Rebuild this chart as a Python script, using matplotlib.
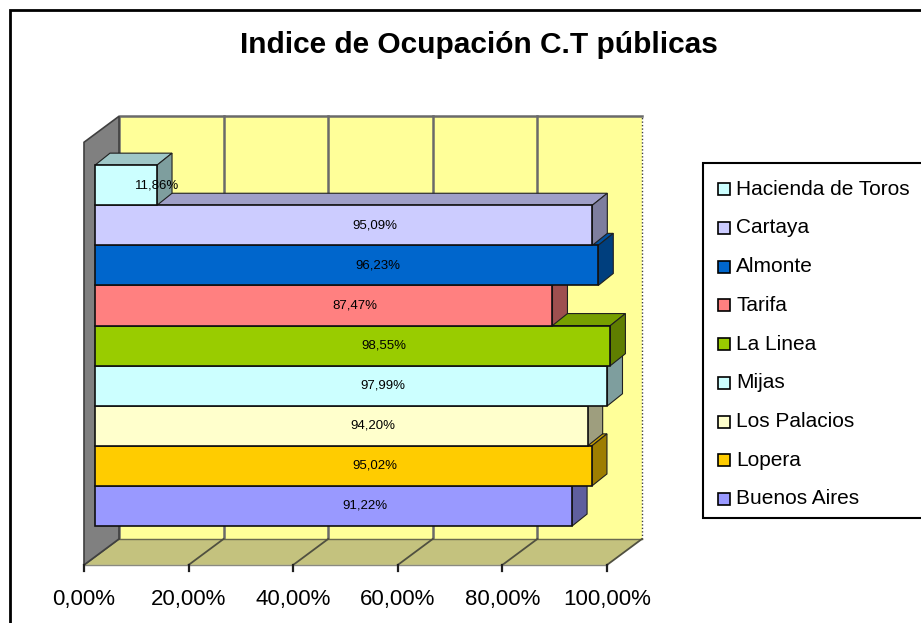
import matplotlib
matplotlib.use("Agg")
import matplotlib.pyplot as plt
from matplotlib.patches import Polygon, Rectangle
import numpy as np

plt.rcParams['font.family'] = ['Liberation Sans', 'DejaVu Sans']

# ---- data (bottom to top) ----
categories = ['Buenos Aires', 'Lopera', 'Los Palacios', 'Mijas', 'La Linea',
              'Tarifa', 'Almonte', 'Cartaya', 'Hacienda de Toros']
values = [91.22, 95.02, 94.20, 97.99, 98.55, 87.47, 96.23, 95.09, 11.86]
colors = ['#9999FF', '#FFCC00', '#FFFFCC', '#CCFFFF', '#99CC00',
          '#FF8080', '#0066CC', '#CCCCFF', '#CCFFFF']
tick_values = [0, 20, 40, 60, 80, 100]
tick_labels = ['0,00%', '20,00%', '40,00%', '60,00%', '80,00%', '100,00%']
title = 'Indice de Ocupación C.T públicas'

W, H = 921, 623
fig = plt.figure(figsize=(W / 100, H / 100), dpi=100)

# scale (pixels per data unit) used only to set the view
PX, PY = 5.23, 40.1
X0PIX, Y0PIX = 95, 506
ax = fig.add_axes([0, 0, 1, 1])
ax.set_xlim(-X0PIX / PX, (W - X0PIX) / PX)
ax.set_ylim((Y0PIX - H) / PY, Y0PIX / PY)
ax.axis('off')

# 3D geometry (data units)
BDX, BDY = 15 / PX, 12 / PY          # bar depth
FX, FY = -11 / PX, -8 / PY           # wall front offset
BX, BY = 24 / PX, 18 / PY            # wall back offset
n = len(values)
y_floor = -0.5 - 0.77
y_top = n - 0.5 + 0.77
xmax = 100

grid_c = '#6A6A6A'

# back wall
ax.add_patch(Polygon([(BX, y_floor + BY), (xmax + BX, y_floor + BY),
                      (xmax + BX, y_top + BY), (BX, y_top + BY)],
                     closed=True, facecolor='#FFFF99', edgecolor='none', zorder=1))
ax.plot([BX, BX, xmax + BX], [y_floor + BY, y_top + BY, y_top + BY],
        color=grid_c, lw=1.8, zorder=1.5)
for t in tick_values[1:-1]:
    ax.plot([t + BX, t + BX], [y_floor + BY, y_top + BY], color=grid_c, lw=1.8, zorder=1.5)
ax.plot([xmax + BX, xmax + BX], [y_floor + BY, y_top + BY], color='#404040',
        lw=1.0, ls=(0, (1, 1.5)), zorder=1.5)

# floor
ax.add_patch(Polygon([(FX, y_floor + FY), (xmax + FX, y_floor + FY),
                      (xmax + BX, y_floor + BY), (BX, y_floor + BY)],
                     closed=True, facecolor='#C4C27E', edgecolor='none', zorder=2))
ax.plot([BX, xmax + BX], [y_floor + BY, y_floor + BY], color='#6A6A50', lw=1.0, zorder=2.4)
for t in tick_values:
    ax.plot([t + FX, t + BX], [y_floor + FY, y_floor + BY], color='#505040', lw=1.3, zorder=2.5)
ax.plot([FX, xmax + FX], [y_floor + FY, y_floor + FY], color='#8A8A80', lw=1.0, zorder=2.6)

# left wall
ax.add_patch(Polygon([(FX, y_floor + FY), (BX, y_floor + BY),
                      (BX, y_top + BY), (FX, y_top + FY)],
                     closed=True, facecolor='#808080', edgecolor='#404040', lw=1.2, zorder=3))

# ticks + labels
for t, lab in zip(tick_values, tick_labels):
    ax.plot([t + FX, t + FX], [y_floor + FY, y_floor + FY - 0.15], color='#202020', lw=1.6, zorder=3)
    ax.text(t + FX, y_floor + FY - 0.87, lab, ha='center', va='center',
            fontsize=16, color='black')

# bars
ys = np.arange(n)
for i, (v, c) in enumerate(zip(values, colors)):
    rgb = np.array(matplotlib.colors.to_rgb(c))
    top_c = rgb * 0.78
    side_c = rgb * 0.62
    y0, y1 = ys[i] - 0.5, ys[i] + 0.5
    ax.add_patch(Polygon([(0, y1), (v, y1), (v + BDX, y1 + BDY), (BDX, y1 + BDY)],
                         closed=True, facecolor=top_c, edgecolor='#202020', lw=0.8,
                         zorder=5 + i * 0.01))
    ax.add_patch(Polygon([(v, y0), (v + BDX, y0 + BDY), (v + BDX, y1 + BDY), (v, y1)],
                         closed=True, facecolor=side_c, edgecolor='#202020', lw=0.8,
                         zorder=5 + i * 0.01))
ax.barh(ys, values, height=1.0, left=0, color=colors, edgecolor='#101010',
        linewidth=1.2, zorder=6)

for i, v in enumerate(values):
    ax.text(v / 2 + 6, ys[i], f'{v:.2f}%'.replace('.', ','), ha='center', va='center',
            fontsize=9.5, color='black', zorder=7)

# title
fig.text(479 / W, 1 - 45 / H, title, ha='center', va='center',
         fontsize=21.5, fontweight='bold')

# legend (drawn manually; top to bottom = reversed order)
def fx(px):
    return px / W

def fy(py):
    return 1 - py / H

fig.patches.append(Rectangle((fx(703), fy(518)), fx(930) - fx(703), fy(163) - fy(518),
                             transform=fig.transFigure, facecolor='white',
                             edgecolor='black', linewidth=1.5, zorder=10))
for k, (lab, c) in enumerate(zip(categories[::-1], colors[::-1])):
    yc = 189 + k * 38.75
    fig.patches.append(Rectangle((fx(718), fy(yc + 6)), fx(12), 12 / H,
                                 transform=fig.transFigure, facecolor=c,
                                 edgecolor='black', linewidth=1.2, zorder=11))
    fig.text(fx(736), fy(yc), lab, ha='left', va='center', fontsize=15, zorder=12)

# chart area border (partially cut off on right/bottom)
fig.patches.append(Rectangle((10 / W, -0.05), 1.1, 1 - 10 / H + 0.05,
                             transform=fig.transFigure, fill=False,
                             edgecolor='black', linewidth=2, zorder=9))

fig.savefig('out.png', dpi=100)
